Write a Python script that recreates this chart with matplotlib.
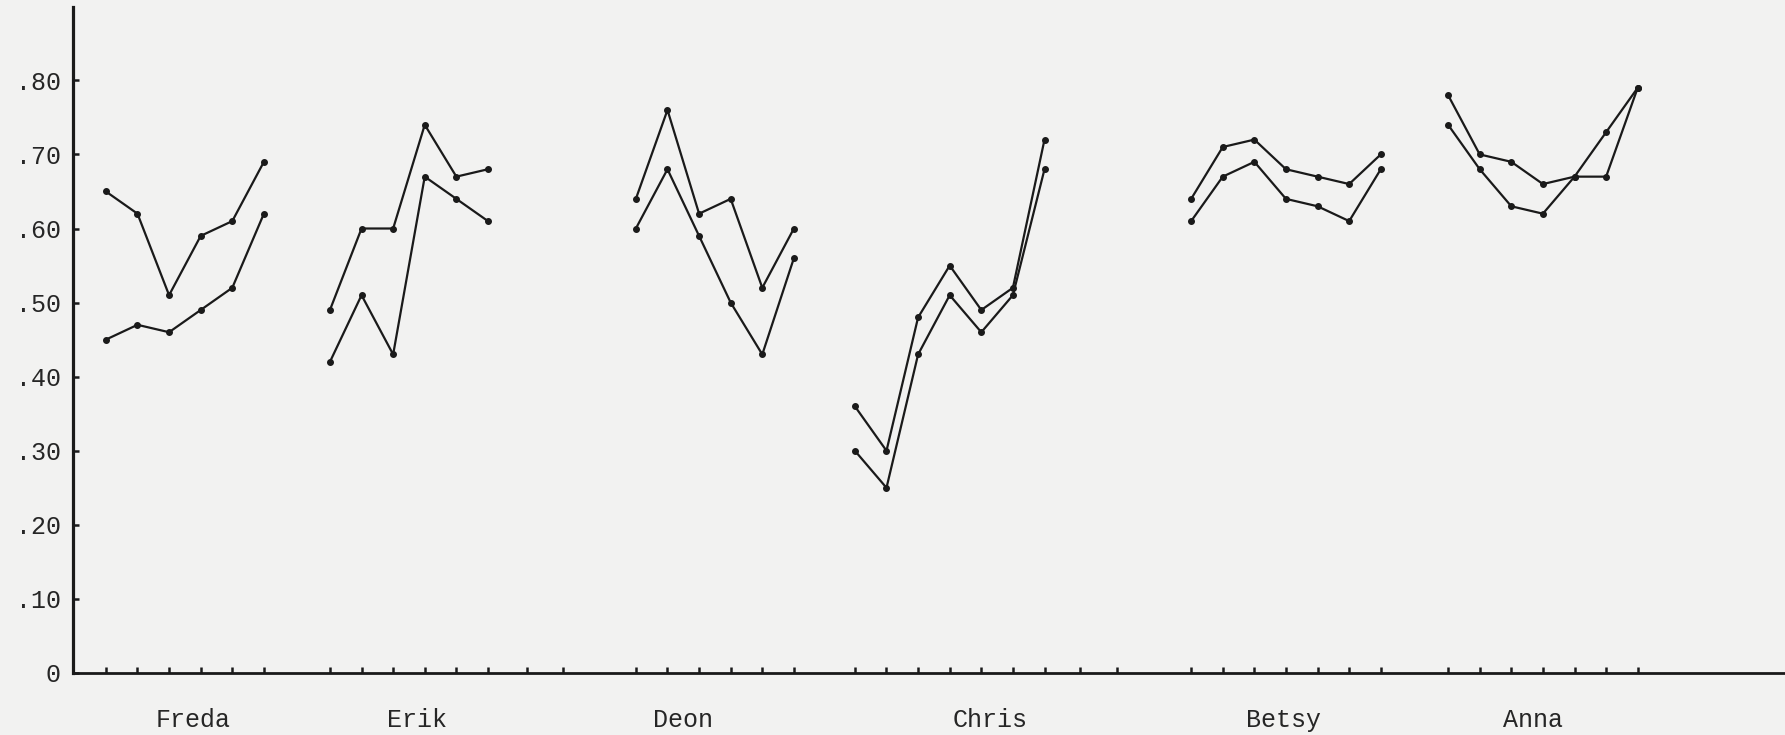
import matplotlib
matplotlib.use("Agg")
import matplotlib.pyplot as plt
import matplotlib.transforms as mtransforms

# ─── Data ────────────────────────────────────────────────────────────────────
names = ["Freda", "Erik", "Deon", "Chris", "Betsy", "Anna"]

freda_a = [0.65, 0.62, 0.51, 0.59, 0.61, 0.69]
freda_b = [0.45, 0.47, 0.46, 0.49, 0.52, 0.62]
erik_a = [0.49, 0.60, 0.60, 0.74, 0.67, 0.68]
erik_b = [0.42, 0.51, 0.43, 0.67, 0.64, 0.61]
deon_a = [0.64, 0.76, 0.62, 0.64, 0.52, 0.60]
deon_b = [0.60, 0.68, 0.59, 0.50, 0.43, 0.56]
chris_a = [0.36, 0.30, 0.48, 0.55, 0.49, 0.52, 0.72]
chris_b = [0.30, 0.25, 0.43, 0.51, 0.46, 0.51, 0.68]
betsy_a = [0.64, 0.71, 0.72, 0.68, 0.67, 0.66, 0.70]
betsy_b = [0.61, 0.67, 0.69, 0.64, 0.63, 0.61, 0.68]
anna_a = [0.78, 0.70, 0.69, 0.66, 0.67, 0.67, 0.79]
anna_b = [0.74, 0.68, 0.63, 0.62, 0.67, 0.73, 0.79]

y_ticks = [0, 0.10, 0.20, 0.30, 0.40, 0.50, 0.60, 0.70, 0.80]
y_tick_labels = ["0", ".10", ".20", ".30", ".40", ".50", ".60", ".70", ".80"]

# ─── Layout (x in slot units, one slot per measurement) ──────────────────────
group_start = [0.0, 7.09, 16.77, 23.70, 34.34, 42.47]
label_x = [2.75, 9.84, 18.26, 27.97, 37.25, 45.16]
spare_ticks = [13.32, 14.46, 30.82, 31.99]

PAPER = "#f2f2f1"
INK = "#1a1a1a"
TEXT = "#262626"
FONT = ["Liberation Mono", "DejaVu Sans Mono"]

series = [(freda_a, freda_b), (erik_a, erik_b), (deon_a, deon_b),
          (chris_a, chris_b), (betsy_a, betsy_b), (anna_a, anna_b)]

plt.rcParams["font.family"] = FONT

fig = plt.figure(figsize=(17.85, 7.35), dpi=100, facecolor=PAPER)
ax = fig.add_axes([73 / 1785, 62 / 735, 1712 / 1785, 666 / 735])
ax.set_facecolor(PAPER)

tick_x = list(spare_ticks)
for start, (a, b) in zip(group_start, series):
    xs = [start + i for i in range(len(a))]
    tick_x += xs
    for vals in (a, b):
        ax.plot(xs, vals, color=INK, lw=1.6, marker="o", ms=4,
                mfc=INK, mec=INK, solid_joinstyle="miter")

ax.set_xlim(-1.04, 53.13)
ax.set_ylim(0, 0.899)

for side in ("top", "right"):
    ax.spines[side].set_visible(False)
ax.spines["left"].set_linewidth(2.3)
ax.spines["bottom"].set_linewidth(2.0)
ax.spines["left"].set_color(INK)
ax.spines["bottom"].set_color(INK)

ax.set_yticks(y_ticks)
ax.set_yticklabels(y_tick_labels, fontsize=18, color=TEXT)
ax.tick_params(axis="y", direction="in", length=4, width=1.8,
               color=INK, pad=9)

ax.set_xticks(sorted(tick_x))
ax.set_xticklabels([])
ax.tick_params(axis="x", direction="in", length=4, width=1.8, color=INK)

# person names under each block of measurements
trans = mtransforms.blended_transform_factory(ax.transData, ax.transAxes)
for x, name in zip(label_x, names):
    ax.text(x, -47 / 666, name, transform=trans, ha="center", va="center",
            fontsize=18, color=TEXT)

fig.savefig("out.png", dpi=100, facecolor=PAPER)
